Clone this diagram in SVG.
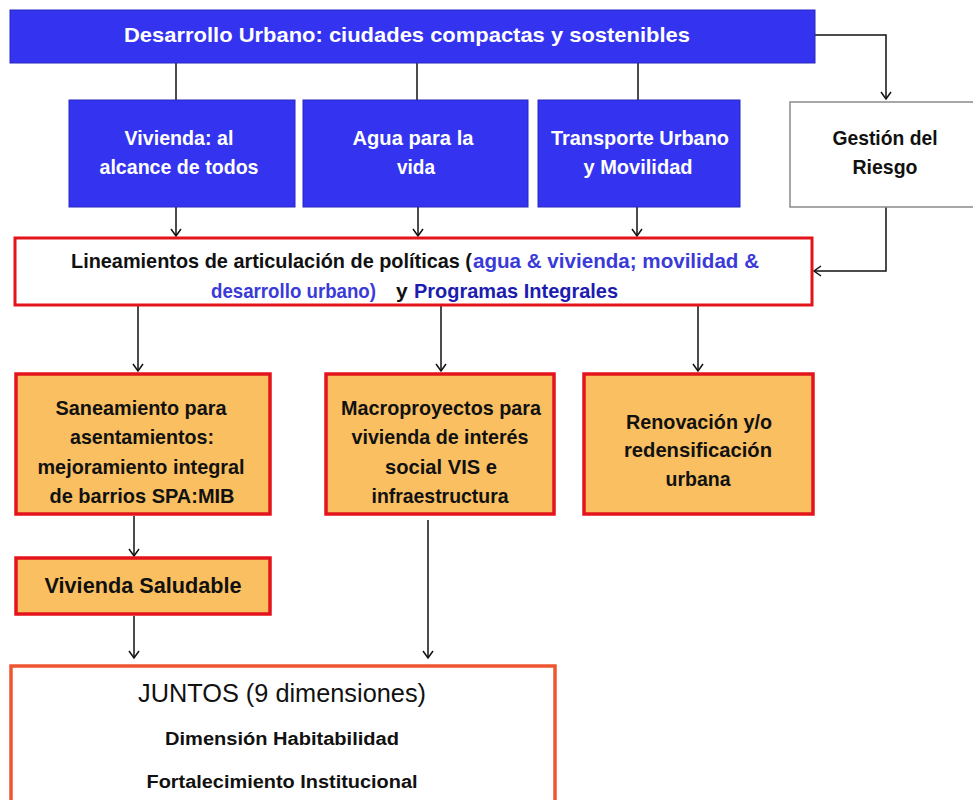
<svg xmlns="http://www.w3.org/2000/svg" width="973" height="800" viewBox="0 0 973 800">
<style>
.blue{fill:#3434f0;stroke:#2626c0;stroke-width:1}
.white{fill:#ffffff;stroke:#8a8a8a;stroke-width:1.5}
.lin{fill:#ffffff;stroke:#e3141b;stroke-width:3}
.org{fill:#f9bf60;stroke:#e3141b;stroke-width:3.5}
.jun{fill:#ffffff;stroke:#ee5530;stroke-width:3.5}
text{font-family:"Liberation Sans Narrow","Liberation Sans",Arial,sans-serif;font-weight:bold;font-size:21px;text-anchor:middle}
.w{fill:#ffffff}
.k{fill:#111111}
.b1{fill:#3a3ad8}
.b2{fill:#1c1cb0}
.st{text-anchor:start}
.reg{font-family:"Liberation Sans",Arial,sans-serif;font-weight:normal;font-size:25px}
.con{fill:none;stroke:#111111;stroke-width:1.5}
</style>
<defs>
<marker id="ah" markerWidth="12" markerHeight="12" refX="9" refY="6" orient="auto" markerUnits="userSpaceOnUse">
<path d="M2,1 L9,6 L2,11" fill="none" stroke="#111111" stroke-width="1.5"/>
</marker>
</defs>

<g id="connectors">
<line class="con" x1="176" y1="63" x2="176" y2="100"/>
<line class="con" x1="417" y1="63" x2="417" y2="100"/>
<line class="con" x1="638" y1="63" x2="638" y2="100"/>
<path class="con" d="M815,35 H886 V99" marker-end="url(#ah)"/>
<line class="con" x1="176" y1="207" x2="176" y2="236" marker-end="url(#ah)"/>
<line class="con" x1="418" y1="207" x2="418" y2="236" marker-end="url(#ah)"/>
<line class="con" x1="637" y1="207" x2="637" y2="236" marker-end="url(#ah)"/>
<path class="con" d="M886,206 V271 H814" marker-end="url(#ah)"/>
<line class="con" x1="138" y1="306" x2="138" y2="371" marker-end="url(#ah)"/>
<line class="con" x1="441" y1="306" x2="441" y2="371" marker-end="url(#ah)"/>
<line class="con" x1="698" y1="306" x2="698" y2="371" marker-end="url(#ah)"/>
<line class="con" x1="134" y1="516" x2="134" y2="556" marker-end="url(#ah)"/>
<line class="con" x1="134" y1="616" x2="134" y2="658" marker-end="url(#ah)"/>
<line class="con" x1="428" y1="520" x2="428" y2="658" marker-end="url(#ah)"/>
</g>

<g id="desarrollo">
<rect class="blue" x="10" y="10" width="805" height="53"/>
<text class="w" x="407" y="42" textLength="566" lengthAdjust="spacingAndGlyphs">Desarrollo Urbano: ciudades compactas y sostenibles</text>
</g>

<g id="vivienda">
<rect class="blue" x="69" y="100" width="226" height="107"/>
<text class="w" x="179" y="145" textLength="109" lengthAdjust="spacingAndGlyphs">Vivienda: al</text>
<text class="w" x="179" y="174" textLength="159" lengthAdjust="spacingAndGlyphs">alcance de todos</text>
</g>

<g id="agua">
<rect class="blue" x="303" y="100" width="225" height="107"/>
<text class="w" x="413" y="145" textLength="121" lengthAdjust="spacingAndGlyphs">Agua para la</text>
<text class="w" x="416" y="174" textLength="38" lengthAdjust="spacingAndGlyphs">vida</text>
</g>

<g id="transporte">
<rect class="blue" x="538" y="100" width="202" height="107"/>
<text class="w" x="640" y="145" textLength="178" lengthAdjust="spacingAndGlyphs">Transporte Urbano</text>
<text class="w" x="638" y="174" textLength="109" lengthAdjust="spacingAndGlyphs">y Movilidad</text>
</g>

<g id="gestion">
<rect class="white" x="790" y="102" width="190" height="105"/>
<text class="k" x="885" y="145" textLength="105" lengthAdjust="spacingAndGlyphs">Gestión del</text>
<text class="k" x="885" y="174" textLength="65" lengthAdjust="spacingAndGlyphs">Riesgo</text>
</g>

<g id="lineamientos">
<rect class="lin" x="15" y="238" width="797" height="67"/>
<text class="k st" x="71" y="268" textLength="401" lengthAdjust="spacingAndGlyphs">Lineamientos de articulación de políticas (</text>
<text class="b1 st" x="473" y="268" textLength="286" lengthAdjust="spacingAndGlyphs">agua &amp; vivienda;  movilidad &amp;</text>
<text class="b1 st" x="211" y="298" textLength="165" lengthAdjust="spacingAndGlyphs">desarrollo urbano)</text>
<text class="k st" x="396" y="298">y</text>
<text class="b2 st" x="414" y="298" textLength="204" lengthAdjust="spacingAndGlyphs">Programas Integrales</text>
</g>

<g id="saneamiento">
<rect class="org" x="16" y="374" width="254" height="140"/>
<text class="k" x="141" y="415" textLength="171" lengthAdjust="spacingAndGlyphs">Saneamiento para</text>
<text class="k" x="142" y="444" textLength="144" lengthAdjust="spacingAndGlyphs">asentamientos:</text>
<text class="k" x="141" y="474" textLength="207" lengthAdjust="spacingAndGlyphs">mejoramiento integral</text>
<text class="k" x="142" y="503" textLength="185" lengthAdjust="spacingAndGlyphs">de barrios SPA:MIB</text>
</g>

<g id="macroproyectos">
<rect class="org" x="326" y="374" width="228" height="140"/>
<text class="k" x="441" y="415" textLength="200" lengthAdjust="spacingAndGlyphs">Macroproyectos para</text>
<text class="k" x="440" y="444" textLength="177" lengthAdjust="spacingAndGlyphs">vivienda de interés</text>
<text class="k" x="441" y="474" textLength="112" lengthAdjust="spacingAndGlyphs">social VIS e</text>
<text class="k" x="440" y="503" textLength="137" lengthAdjust="spacingAndGlyphs">infraestructura</text>
</g>

<g id="renovacion">
<rect class="org" x="584" y="374" width="229" height="140"/>
<text class="k" x="699" y="429" textLength="146" lengthAdjust="spacingAndGlyphs">Renovación y/o</text>
<text class="k" x="698" y="457" textLength="148" lengthAdjust="spacingAndGlyphs">redensificación</text>
<text class="k" x="698" y="486" textLength="65" lengthAdjust="spacingAndGlyphs">urbana</text>
</g>

<g id="saludable">
<rect class="org" x="16" y="558" width="254" height="56"/>
<text class="k" x="143" y="593" style="font-size:22px" textLength="197" lengthAdjust="spacingAndGlyphs">Vivienda Saludable</text>
</g>

<g id="juntos">
<rect class="jun" x="11" y="666" width="544" height="150"/>
<text class="k reg" x="282" y="702" textLength="288" lengthAdjust="spacingAndGlyphs">JUNTOS (9 dimensiones)</text>
<text class="k" x="282" y="745" style="font-size:18px" textLength="234" lengthAdjust="spacingAndGlyphs">Dimensión Habitabilidad</text>
<text class="k" x="282" y="788" style="font-size:18px" textLength="271" lengthAdjust="spacingAndGlyphs">Fortalecimiento Institucional</text>
</g>
</svg>
